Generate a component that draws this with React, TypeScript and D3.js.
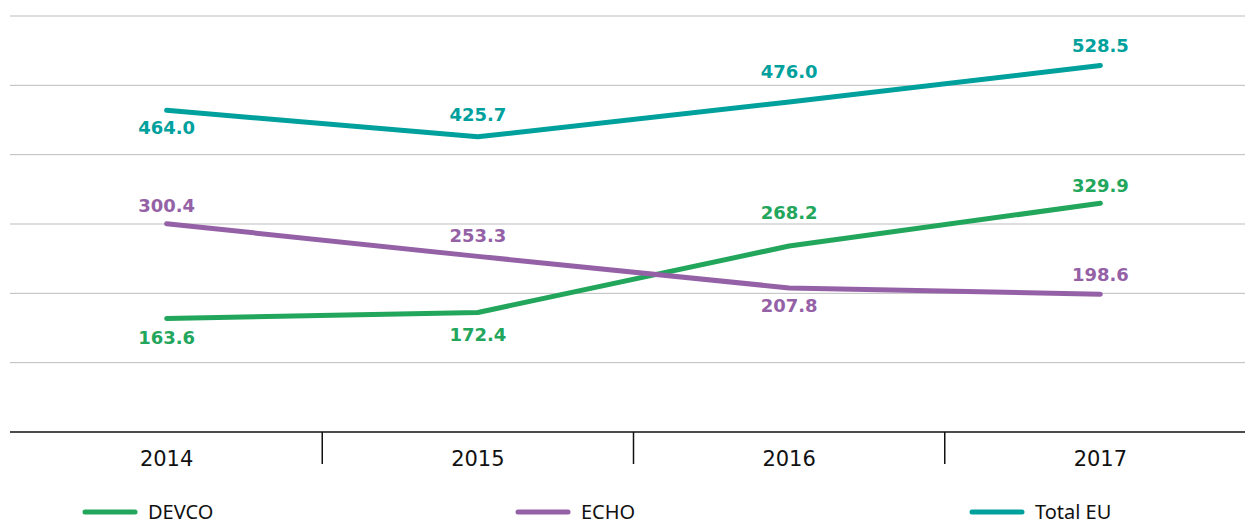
import * as d3 from "d3";
import { useEffect, useRef } from "react";

const years = ["2014", "2015", "2016", "2017"];
const devco = [163.6, 172.4, 268.2, 329.9];
const echo = [300.4, 253.3, 207.8, 198.6];
const totalEU = [464.0, 425.7, 476.0, 528.5];
const yTicks = [0, 100, 200, 300, 400, 500, 600];

// vertical offset (px) of each value label's centre from its point
const devcoLabelDy = [19, 22, -34, -18];
const echoLabelDy = [-18, -21, 18, -20];
const totalLabelDy = [17, -22, -30, -20];

export default function App() {
    const ref = useRef(null);
    const width = 1245,
        height = 524;

    useEffect(() => {
        const svg = d3.select(ref.current);
        svg.selectAll("*").remove();

        const font = "'Noto Sans', 'DejaVu Sans', sans-serif";
        const wideFont = "'DejaVu Sans', sans-serif";

        const x = d3.scaleBand().domain(years).range([11, 1256]);
        const y = d3.scaleLinear().domain([0, 600]).range([432, 16]);

        const g = svg.append("g");

        // gridlines
        g.selectAll("line.grid")
            .data(yTicks.slice(1))
            .join("line")
            .attr("x1", 10)
            .attr("x2", width)
            .attr("y1", d => y(d))
            .attr("y2", d => y(d))
            .attr("stroke", "#bdbdbd")
            .attr("stroke-width", 1);

        // axis
        g.append("line")
            .attr("x1", 10)
            .attr("x2", width)
            .attr("y1", y(0))
            .attr("y2", y(0))
            .attr("stroke", "#111")
            .attr("stroke-width", 1.5);

        g.selectAll("line.sep")
            .data(years.slice(1))
            .join("line")
            .attr("x1", d => x(d)!)
            .attr("x2", d => x(d)!)
            .attr("y1", y(0))
            .attr("y2", y(0) + 32)
            .attr("stroke", "#111")
            .attr("stroke-width", 1.5);

        g.selectAll("text.year")
            .data(years)
            .join("text")
            .attr("x", d => x(d)! + x.bandwidth() / 2)
            .attr("y", 466)
            .attr("text-anchor", "middle")
            .style("font-family", wideFont)
            .style("font-size", "21px")
            .attr("fill", "#111")
            .text(d => d);

        const series = [
            { name: "DEVCO", values: devco, dy: devcoLabelDy, color: "#22a65c" },
            { name: "ECHO", values: echo, dy: echoLabelDy, color: "#9561a6" },
            { name: "Total EU", values: totalEU, dy: totalLabelDy, color: "#00a19d" },
        ];

        const line = d3.line<number>()
            .x((_d, i) => x(years[i])! + x.bandwidth() / 2)
            .y(d => y(d));

        series.forEach(s => {
            g.append("path")
                .attr("d", line(s.values))
                .attr("fill", "none")
                .attr("stroke", s.color)
                .attr("stroke-width", 5)
                .attr("stroke-linecap", "round")
                .attr("stroke-linejoin", "round");

            g.selectAll(null)
                .data(s.values)
                .join("text")
                .attr("x", (_d, i) => x(years[i])! + x.bandwidth() / 2)
                .attr("y", (d, i) => y(d) + s.dy[i] + 6.5)
                .attr("text-anchor", "middle")
                .style("font-family", wideFont)
                .style("font-size", "18px")
                .style("font-weight", "bold")
                .attr("fill", s.color)
                .text(d => d.toFixed(1));
        });

        // legend
        const legendX = [85, 518, 972];
        series.forEach((s, i) => {
            g.append("line")
                .attr("x1", legendX[i])
                .attr("x2", legendX[i] + 50)
                .attr("y1", 512)
                .attr("y2", 512)
                .attr("stroke", s.color)
                .attr("stroke-width", 5)
                .attr("stroke-linecap", "round");
            g.append("text")
                .attr("x", legendX[i] + 63)
                .attr("y", 519)
                .style("font-family", font)
                .style("font-size", "20px")
                .attr("fill", "#111")
                .text(s.name);
        });
    }, []);

    return (
        <svg ref={ref} width={width} height={height}
            style={{ position: "absolute", left: 0, top: 0, display: "block" }}>
        </svg>
    );
}
